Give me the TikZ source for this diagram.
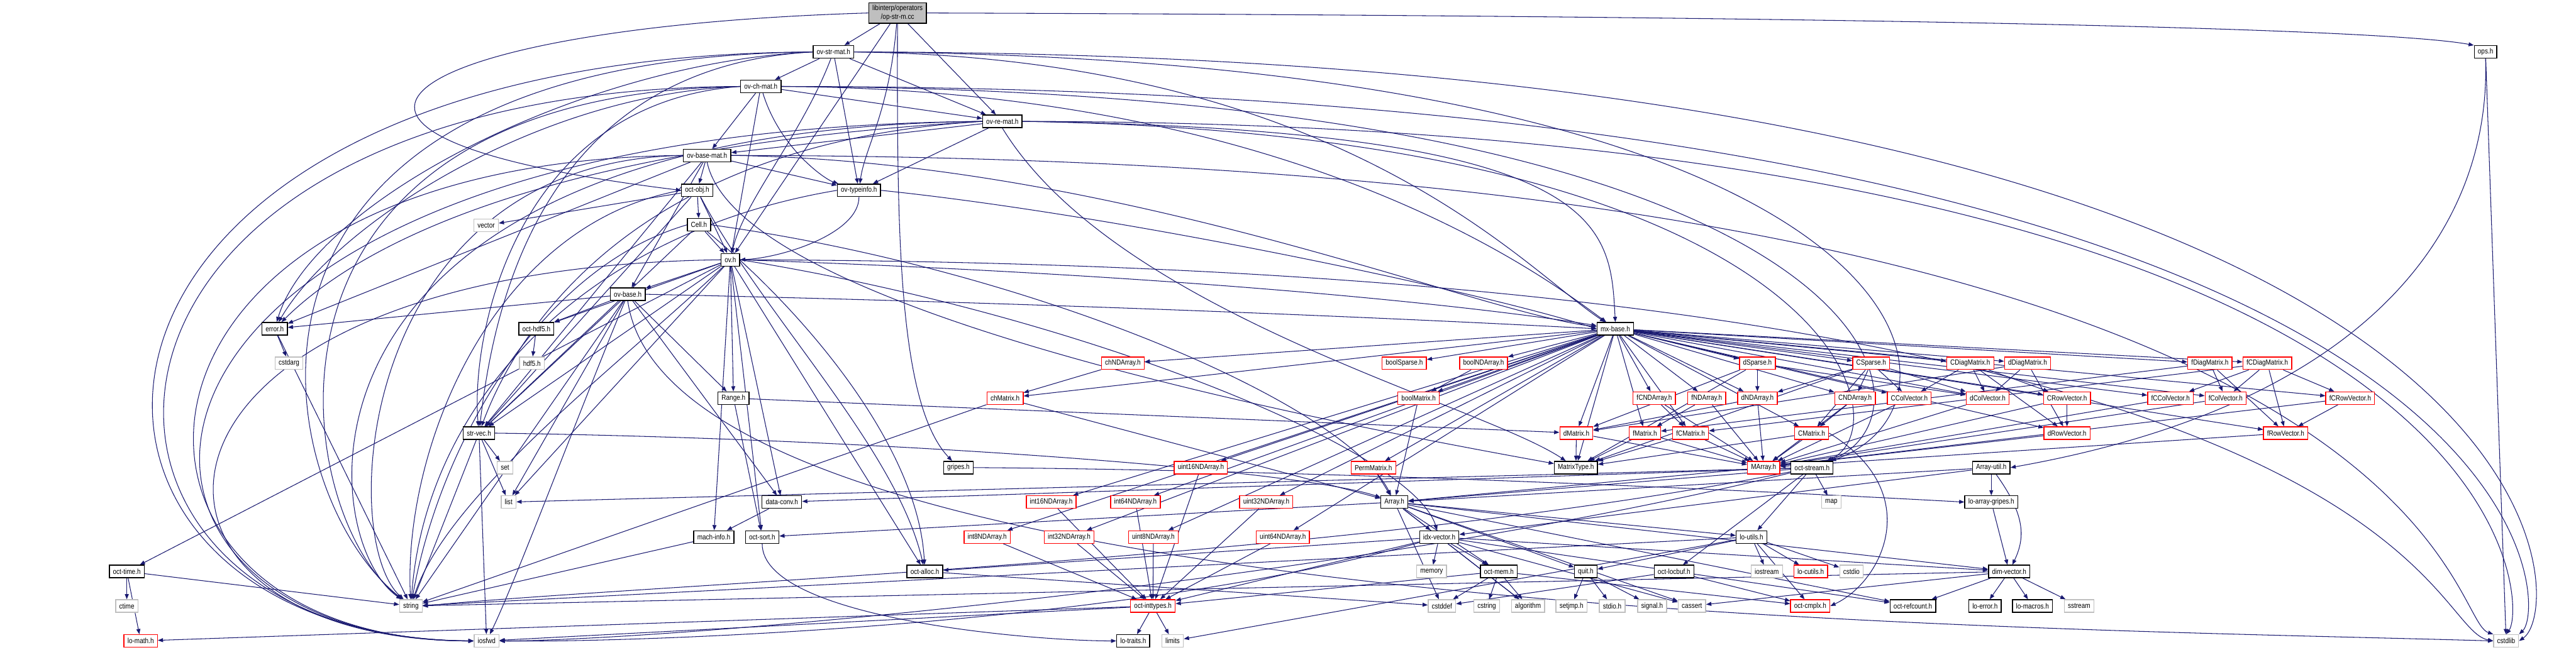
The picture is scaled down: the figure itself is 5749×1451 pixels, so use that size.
\documentclass[tikz,border=0pt]{standalone}
\usepackage{fontspec}
\setmainfont{Liberation Sans}[FakeStretch=0.85]
\usepackage{tikz}
\usetikzlibrary{arrows.meta, backgrounds}
\definecolor{edgeblue}{RGB}{25,25,112}
\definecolor{sysgrey}{RGB}{191,191,191}
\definecolor{rootgrey}{RGB}{191,191,191}

\begin{document}
\begin{tikzpicture}[
  x=0.01cm, y=-0.01cm,
  font=\fontsize{4.7}{5.5}\selectfont,
  hdr/.style={rectangle, draw=black, fill=white, line width=0.55pt,
              minimum height=0.28cm, inner xsep=0.08cm, inner ysep=0pt},
  trunc/.style={hdr, draw=red},
  sys/.style={hdr, draw=sysgrey},
  rootbox/.style={hdr, fill=rootgrey, minimum height=0.46cm, align=center},
  dep/.style={-{Triangle[length=3.3pt,width=2.5pt]}, draw=edgeblue,
              line width=0.42pt}
]
\useasboundingbox (0,0) rectangle (5749,1451);

% ── top of the graph ──
\node[rootbox] (opstrm) at (2003,29) {libinterp/operators\\/op-str-m.cc};
\node[hdr] (ovstrmat)   at (1860,116) {ov-str-mat.h};
\node[hdr] (ops)        at (5547,116) {ops.h};
\node[hdr] (ovchmat)    at (1698,193) {ov-ch-mat.h};
\node[hdr] (ovremat)    at (2237,271) {ov-re-mat.h};
\node[hdr] (ovbasemat)  at (1578,347) {ov-base-mat.h};
\node[hdr] (octobj)     at (1556,425) {oct-obj.h};
\node[hdr] (ovtypeinfo) at (1917,425) {ov-typeinfo.h};
\node[sys] (vector)     at (1085,503) {vector};
\node[hdr] (cell)       at (1560,502) {Cell.h};
\node[hdr] (ovh)        at (1630,580) {ov.h};
\node[hdr] (ovbase)     at (1401,657) {ov-base.h};

% ── row y = 734 / 811 ──
\node[hdr]   (errorh)  at (613,734)  {error.h};
\node[hdr]   (octhdf)  at (1197,734) {oct-hdf5.h};
\node[hdr]   (mxbase)  at (3605,734) {mx-base.h};
\node[sys]   (cstdarg) at (645,811)  {cstdarg};
\node[sys]   (hdf5)    at (1187,811) {hdf5.h};
\node[trunc] (chnda)   at (2506,811) {chNDArray.h};
\node[trunc] (boolsp)  at (3134,811) {boolSparse.h};
\node[trunc] (boolnda) at (3311,811) {boolNDArray.h};
\node[trunc] (dsp)     at (3922,811) {dSparse.h};
\node[trunc] (csp)     at (4176,811) {CSparse.h};
\node[trunc] (cdiag)   at (4397,811) {CDiagMatrix.h};
\node[trunc] (ddiag)   at (4525,811) {dDiagMatrix.h};
\node[trunc] (fdiag)   at (4932,811) {fDiagMatrix.h};
\node[trunc] (fcdiag)  at (5060,811) {fCDiagMatrix.h};

% ── row y = 889 ──
\node[hdr]   (range)   at (1637,889) {Range.h};
\node[trunc] (chmat)   at (2243,889) {chMatrix.h};
\node[trunc] (boolmat) at (3166,889) {boolMatrix.h};
\node[trunc] (fcnda)   at (3692,889) {fCNDArray.h};
\node[trunc] (fnda)    at (3809,889) {fNDArray.h};
\node[trunc] (dnda)    at (3922,889) {dNDArray.h};
\node[trunc] (cnda)    at (4140,889) {CNDArray.h};
\node[trunc] (ccol)    at (4261,889) {CColVector.h};
\node[trunc] (dcol)    at (4436,889) {dColVector.h};
\node[trunc] (crow)    at (4613,889) {CRowVector.h};
\node[trunc] (fccol)   at (4844,889) {fCColVector.h};
\node[trunc] (fcol)    at (4967,889) {fColVector.h};
\node[trunc] (fcrow)   at (5245,889) {fCRowVector.h};

% ── row y = 967 / 1044 ──
\node[hdr]   (strvec)    at (1069,967)  {str-vec.h};
\node[trunc] (dmat)      at (3518,967)  {dMatrix.h};
\node[trunc] (fmat)      at (3671,967)  {fMatrix.h};
\node[trunc] (fcmat)     at (3773,967)  {fCMatrix.h};
\node[trunc] (cmat)      at (4043,967)  {CMatrix.h};
\node[trunc] (drow)      at (4613,967)  {dRowVector.h};
\node[trunc] (frow)      at (5101,967)  {fRowVector.h};
\node[sys]   (set)       at (1127,1044) {set};
\node[hdr]   (gripes)    at (2139,1044) {gripes.h};
\node[trunc] (u16nda)    at (2680,1044) {uint16NDArray.h};
\node[trunc] (permmat)   at (3065,1044) {PermMatrix.h};
\node[hdr]   (mattype)   at (3517,1044) {MatrixType.h};
\node[trunc] (marray)    at (3936,1044) {MArray.h};
\node[hdr]   (octstream) at (4044,1044) {oct-stream.h};
\node[hdr]   (arrayutil) at (4444,1044) {Array-util.h};

% ── row y = 1121 / 1199 ──
\node[sys]   (list)          at (1135,1121) {list};
\node[hdr]   (dataconv)      at (1745,1121) {data-conv.h};
\node[trunc] (i16nda)        at (2346,1121) {int16NDArray.h};
\node[trunc] (i64nda)        at (2534,1121) {int64NDArray.h};
\node[trunc] (u32nda)        at (2826,1121) {uint32NDArray.h};
\node[hdr]   (array)         at (3112,1121) {Array.h};
\node[sys]   (map)           at (4087,1121) {map};
\node[hdr]   (loarraygripes) at (4444,1121) {lo-array-gripes.h};
\node[hdr]   (machinfo)      at (1593,1199) {mach-info.h};
\node[hdr]   (octsort)       at (1701,1199) {oct-sort.h};
\node[trunc] (i8nda)         at (2203,1199) {int8NDArray.h};
\node[trunc] (i32nda)        at (2386,1199) {int32NDArray.h};
\node[trunc] (u8nda)         at (2574,1199) {uint8NDArray.h};
\node[trunc] (u64nda)        at (2863,1199) {uint64NDArray.h};
\node[hdr]   (idxvec)        at (3212,1199) {idx-vector.h};
\node[hdr]   (loutils)       at (3909,1199) {lo-utils.h};

% ── row y = 1276 ──
\node[hdr]   (octtime)   at (283,1276)  {oct-time.h};
\node[hdr]   (octalloc)  at (2064,1276) {oct-alloc.h};
\node[sys]   (memory)    at (3195,1276) {memory};
\node[hdr]   (octmem)    at (3345,1276) {oct-mem.h};
\node[hdr]   (quit)      at (3539,1276) {quit.h};
\node[hdr]   (octlocbuf) at (3736,1276) {oct-locbuf.h};
\node[sys]   (iostream)  at (3943,1276) {iostream};
\node[trunc] (locutils)  at (4041,1276) {lo-cutils.h};
\node[sys]   (cstdio)    at (4132,1276) {cstdio};
\node[hdr]   (dimvec)    at (4484,1276) {dim-vector.h};

% ── row y = 1353 ──
\node[sys]   (ctime)       at (283,1353)  {ctime};
\node[sys]   (string)      at (917,1353)  {string};
\node[trunc] (octinttypes) at (2573,1353) {oct-inttypes.h};
\node[sys]   (cstddef)     at (3218,1353) {cstddef};
\node[sys]   (cstring)     at (3318,1353) {cstring};
\node[sys]   (algorithm)   at (3410,1353) {algorithm};
\node[sys]   (setjmp)      at (3507,1353) {setjmp.h};
\node[sys]   (stdioh)      at (3598,1353) {stdio.h};
\node[sys]   (signalh)     at (3687,1353) {signal.h};
\node[sys]   (cassert)     at (3776,1353) {cassert};
\node[trunc] (octcmplx)    at (4040,1353) {oct-cmplx.h};
\node[hdr]   (octrefcount) at (4269,1353) {oct-refcount.h};
\node[hdr]   (loerror)     at (4430,1353) {lo-error.h};
\node[hdr]   (lomacros)    at (4536,1353) {lo-macros.h};
\node[sys]   (sstream)     at (4640,1353) {sstream};

% ── bottom row ──
\node[trunc] (lomath)   at (314,1431)  {lo-math.h};
\node[sys]   (iosfwd)   at (1086,1431) {iosfwd};
\node[hdr]   (lotraits) at (2529,1431) {lo-traits.h};
\node[sys]   (limits)   at (2617,1431) {limits};
\node[sys]   (cstdlib)  at (5593,1431) {cstdlib};

\begin{scope}[on background layer]
% ── op-str-m.cc ──
\draw[dep] (opstrm) -- (ovstrmat);
\draw[dep] (opstrm) -- (ovremat);
\draw[dep] (opstrm) .. controls (1985,250) and (1930,330) .. (ovtypeinfo);
\draw[dep] (opstrm) .. controls (2002,500) and (2002,900) .. (gripes);
\draw[dep] (opstrm) -- (ovh);
\draw[dep] (opstrm.west) .. controls (900,60) and (500,300) .. (octobj.west);
\draw[dep] (opstrm.east) .. controls (4000,35) and (5300,60) .. (ops.north west);

% ── ov-str-mat.h ──
\draw[dep] (ovstrmat) -- (ovchmat);
\draw[dep] (ovstrmat) -- (ovremat);
\draw[dep] (ovstrmat) -- (ovtypeinfo);
\draw[dep] (ovstrmat) .. controls (1790,300) and (1660,450) .. (ovh);
\draw[dep] (ovstrmat.west) .. controls (1300,140) and (700,450) .. (errorh);
\draw[dep] (ovstrmat.west) .. controls (1200,150) and (1100,700) .. (strvec);
\draw[dep] (ovstrmat.west) .. controls (400,130) and (600,1100) .. (string);
\draw[dep] (ovstrmat.west) .. controls (0,125) and (5,1420) .. (iosfwd.west);
\draw[dep] (ovstrmat.east) .. controls (3000,130) and (3400,600) .. (mxbase);
\draw[dep] (ovstrmat.east) .. controls (4300,130) and (4450,900) .. (octstream);
\draw[dep] (ovstrmat.east) .. controls (5741,120) and (5741,1350) .. (cstdlib.east);

% ── ov-ch-mat.h ──
\draw[dep] (ovchmat) -- (ovbasemat);
\draw[dep] (ovchmat) -- (ovremat);
\draw[dep] (ovchmat) .. controls (1740,330) and (1840,400) .. (ovtypeinfo);
\draw[dep] (ovchmat) -- (ovh);
\draw[dep] (ovchmat.west) .. controls (1200,210) and (750,500) .. (errorh);
\draw[dep] (ovchmat.west) .. controls (1150,230) and (1050,750) .. (strvec);
\draw[dep] (ovchmat.west) .. controls (500,210) and (650,1150) .. (string);
\draw[dep] (ovchmat.west) .. controls (55,200) and (55,1425) .. (iosfwd.west);
\draw[dep] (ovchmat.east) .. controls (2900,200) and (3450,620) .. (mxbase);
\draw[dep] (ovchmat.east) .. controls (4200,200) and (4350,920) .. (octstream);
\draw[dep] (ovchmat.east) .. controls (5692,195) and (5692,1350) .. (cstdlib.north east);

% ── ov-re-mat.h ──
\draw[dep] (ovremat) -- (ovbasemat);
\draw[dep] (ovremat) -- (ovtypeinfo);
\draw[dep] (ovremat.west) .. controls (1200,330) and (800,550) .. (errorh);
\draw[dep] (ovremat.west) .. controls (1400,320) and (1150,750) .. (strvec);
\draw[dep] (ovremat.south) .. controls (2490,700) and (3300,900) .. (mattype);
\draw[dep] (ovremat.east) .. controls (3593,290) and (3593,500) .. (mxbase.north);
\draw[dep] (ovremat.east) .. controls (4100,300) and (4250,950) .. (octstream);
\draw[dep] (ovremat.west) .. controls (600,290) and (700,1200) .. (string);
\draw[dep] (ovremat.west) .. controls (110,290) and (110,1428) .. (iosfwd.west);
\draw[dep] (ovremat.east) .. controls (5642,275) and (5642,1350) .. (cstdlib.north);

% ── ov-base-mat.h ──
\draw[dep] (ovbasemat) -- (octobj);
\draw[dep] (ovbasemat) -- (ovtypeinfo);
\draw[dep] (ovbasemat) -- (ovbase);
\draw[dep] (ovbasemat) -- (errorh);
\draw[dep] (ovbasemat) -- (strvec);
\draw[dep] (ovbasemat.east) .. controls (2500,360) and (3300,700) .. (mxbase);
\draw[dep] (ovbasemat.south) .. controls (1650,700) and (3000,950) .. (mattype);
\draw[dep] (ovbasemat.west) .. controls (800,360) and (750,1200) .. (string);
\draw[dep] (ovbasemat.west) .. controls (160,360) and (160,1430) .. (iosfwd.west);
\draw[dep] (ovbasemat.east) .. controls (5455,350) and (5455,1380) .. (cstdlib.north west);

% ── oct-obj.h, ov-typeinfo.h, Cell.h ──
\draw[dep] (octobj) -- (cell);
\draw[dep] (octobj) -- (ovh);
\draw[dep] (octobj) -- (vector);
\draw[dep] (octobj) -- (strvec);
\draw[dep] (octobj) .. controls (1700,700) and (2000,1000) .. (octalloc);
\draw[dep] (octobj.west) .. controls (1100,500) and (900,1000) .. (string);
\draw[dep] (ovtypeinfo.south) .. controls (1917,520) and (1750,575) .. (ovh.east);
\draw[dep] (ovtypeinfo.west) .. controls (1300,520) and (950,900) .. (string);
\draw[dep] (ovtypeinfo.east) .. controls (2500,480) and (3300,650) .. (mxbase.west);
\draw[dep] (cell) -- (ovh);
\draw[dep] (cell) -- (strvec);
\draw[dep] (cell) .. controls (1800,700) and (2050,1000) .. (octalloc);
\draw[dep] (cell.east) .. controls (2300,600) and (3000,900) .. (array);
\draw[dep] (cell.west) .. controls (1200,600) and (980,1000) .. (string);

% ── ov.h ──
\draw[dep] (ovh) -- (ovbase);
\draw[dep] (ovh) -- (range);
\draw[dep] (ovh) -- (dataconv);
\draw[dep] (ovh) -- (machinfo);
\draw[dep] (ovh) -- (octsort);
\draw[dep] (ovh) -- (octalloc);
\draw[dep] (ovh) -- (octhdf);
\draw[dep] (ovh) -- (strvec);
\draw[dep] (ovh) -- (list);
\draw[dep] (ovh) -- (octtime);
\draw[dep] (ovh.east) .. controls (2800,620) and (3400,700) .. (mxbase);
\draw[dep] (ovh.east) .. controls (2400,700) and (3150,1000) .. (idxvec);
\draw[dep] (ovh) .. controls (1400,800) and (1000,1100) .. (string);
\draw[dep] (ovh.west) .. controls (210,600) and (210,1430) .. (iosfwd.west);
\draw[dep] (ovh.east) .. controls (5405,590) and (5405,1400) .. (cstdlib.west);

% ── ov-base.h ──
\draw[dep] (ovbase) -- (errorh);
\draw[dep] (ovbase) -- (octhdf);
\draw[dep] (ovbase) -- (range);
\draw[dep] (ovbase) -- (dataconv);
\draw[dep] (ovbase) -- (strvec);
\draw[dep] (ovbase) -- (list);
\draw[dep] (ovbase) -- (string);
\draw[dep] (ovbase) .. controls (1300,900) and (1150,1300) .. (iosfwd);
\draw[dep] (ovbase.east) .. controls (2500,680) and (3300,720) .. (mxbase.west);
\draw[dep] (ovbase.south) .. controls (1500,1380) and (4500,1400) .. (cstdlib.west);

% ── left-hand helpers ──
\draw[dep] (errorh) -- (cstdarg);
\draw[dep] (errorh) -- (string);
\draw[dep] (octhdf) -- (hdf5);
\draw[dep] (octtime) -- (ctime);
\draw[dep] (octtime) -- (string);
\draw[dep] (octtime) -- (lomath);
\draw[dep] (strvec) -- (set);
\draw[dep] (strvec) -- (list);
\draw[dep] (strvec) -- (string);
\draw[dep] (strvec) -- (iosfwd);
\draw[dep] (strvec.east) .. controls (2000,980) and (2900,1050) .. (array);
\draw[dep] (range) -- (dmat);
\draw[dep] (range) -- (octsort);
\draw[dep] (dataconv) -- (machinfo);
\draw[dep] (machinfo) -- (string);
\draw[dep] (octsort.south) .. controls (1700,1380) and (2300,1431) .. (lotraits.west);
\draw[dep] (octalloc) -- (cstddef);
\draw[dep] (gripes.east) .. controls (3000,1050) and (4000,1100) .. (loarraygripes.west);

% ── mx-base.h fan ──
\draw[dep] (mxbase) -- (mattype);
\draw[dep] (mxbase) -- (boolmat);
\draw[dep] (mxbase) -- (boolnda);
\draw[dep] (mxbase) -- (boolsp);
\draw[dep] (mxbase) -- (chmat);
\draw[dep] (mxbase) -- (chnda);
\draw[dep] (mxbase) -- (dcol);
\draw[dep] (mxbase) -- (drow);
\draw[dep] (mxbase) -- (dmat);
\draw[dep] (mxbase) -- (dnda);
\draw[dep] (mxbase) -- (ddiag);
\draw[dep] (mxbase) -- (ccol);
\draw[dep] (mxbase) -- (crow);
\draw[dep] (mxbase) -- (cmat);
\draw[dep] (mxbase) -- (cnda);
\draw[dep] (mxbase) -- (cdiag);
\draw[dep] (mxbase) -- (fcol);
\draw[dep] (mxbase) -- (frow);
\draw[dep] (mxbase) -- (fmat);
\draw[dep] (mxbase) -- (fnda);
\draw[dep] (mxbase) -- (fdiag);
\draw[dep] (mxbase) -- (fccol);
\draw[dep] (mxbase) -- (fcrow);
\draw[dep] (mxbase) -- (fcmat);
\draw[dep] (mxbase) -- (fcnda);
\draw[dep] (mxbase) -- (fcdiag);
\draw[dep] (mxbase) -- (i8nda);
\draw[dep] (mxbase) -- (i16nda);
\draw[dep] (mxbase) -- (i32nda);
\draw[dep] (mxbase) -- (i64nda);
\draw[dep] (mxbase) -- (u8nda);
\draw[dep] (mxbase) -- (u16nda);
\draw[dep] (mxbase) -- (u32nda);
\draw[dep] (mxbase) -- (u64nda);
\draw[dep] (mxbase) -- (dsp);
\draw[dep] (mxbase) -- (csp);
\draw[dep] (mxbase) -- (permmat);

% ── matrix classes ──
\draw[dep] (chnda) -- (chmat);
\draw[dep] (chmat) -- (array);
\draw[dep] (chmat) -- (string);
\draw[dep] (boolnda) -- (boolmat);
\draw[dep] (boolmat) -- (array);
\draw[dep] (dsp) -- (dnda);
\draw[dep] (dsp) -- (dmat);
\draw[dep] (dsp) -- (dcol);
\draw[dep] (dsp) -- (mattype);
\draw[dep] (csp) -- (cnda);
\draw[dep] (csp) -- (dnda);
\draw[dep] (csp) -- (cmat);
\draw[dep] (csp) -- (ccol);
\draw[dep] (csp) -- (dcol);
\draw[dep] (csp) -- (mattype);
\draw[dep] (cdiag) -- (ccol);
\draw[dep] (cdiag) -- (dcol);
\draw[dep] (cdiag) -- (crow);
\draw[dep] (cdiag) -- (drow);
\draw[dep] (ddiag) -- (dcol);
\draw[dep] (ddiag) -- (drow);
\draw[dep] (ddiag) -- (dmat);
\draw[dep] (fdiag) -- (fcol);
\draw[dep] (fdiag) -- (frow);
\draw[dep] (fdiag) -- (fmat);
\draw[dep] (fcdiag) -- (fccol);
\draw[dep] (fcdiag) -- (fcol);
\draw[dep] (fcdiag) -- (fcrow);
\draw[dep] (fcdiag) -- (frow);
\draw[dep] (fcdiag) -- (fcmat);
\draw[dep] (fcnda) -- (fcmat);
\draw[dep] (fcnda) -- (marray);
\draw[dep] (fnda) -- (fmat);
\draw[dep] (fnda) -- (marray);
\draw[dep] (dnda) -- (dmat);
\draw[dep] (dnda) -- (marray);
\draw[dep] (cnda) -- (cmat);
\draw[dep] (cnda) -- (marray);
\draw[dep] (crow) -- (drow);
\draw[dep] (fcrow) -- (frow);
\draw[dep] (ccol) -- (marray);
\draw[dep] (dcol) -- (marray);
\draw[dep] (crow) -- (marray);
\draw[dep] (drow) -- (marray);
\draw[dep] (fccol) -- (marray);
\draw[dep] (fcol) -- (marray);
\draw[dep] (fcrow) -- (marray);
\draw[dep] (frow) -- (marray);
\draw[dep] (dmat) -- (mattype);
\draw[dep] (dmat) -- (marray);
\draw[dep] (fmat) -- (mattype);
\draw[dep] (fmat) -- (marray);
\draw[dep] (fcmat) -- (mattype);
\draw[dep] (fcmat) -- (marray);
\draw[dep] (cmat) -- (mattype);
\draw[dep] (cmat) -- (marray);
\draw[dep] (cmat.east) .. controls (4300,1100) and (4200,1300) .. (octcmplx.east);
\draw[dep] (permmat) -- (array);
\draw[dep] (marray) -- (array);

% ── oct-stream.h ──
\draw[dep] (octstream) -- (map);
\draw[dep] (octstream) -- (loutils);
\draw[dep] (octstream) -- (octlocbuf);
\draw[dep] (octstream) -- (array);
\draw[dep] (octstream) -- (dataconv);
\draw[dep] (octstream) -- (list);
\draw[dep] (octstream) .. controls (3000,1250) and (1500,1300) .. (string.east);
\draw[dep] (octstream) .. controls (3000,1300) and (1500,1430) .. (iosfwd.east);

% ── Array.h and friends ──
\draw[dep] (array) -- (idxvec);
\draw[dep] (array) -- (octmem);
\draw[dep] (array) -- (quit);
\draw[dep] (array) -- (cassert);
\draw[dep] (array) -- (algorithm);
\draw[dep] (array) -- (cstddef);
\draw[dep] (array) -- (loutils);
\draw[dep] (array) -- (dimvec);
\draw[dep] (array) -- (octsort);
\draw[dep] (array) -- (octrefcount);
\draw[dep] (idxvec) -- (memory);
\draw[dep] (idxvec) -- (octmem);
\draw[dep] (idxvec) -- (dimvec);
\draw[dep] (idxvec) -- (octinttypes);
\draw[dep] (idxvec) -- (octalloc);
\draw[dep] (idxvec) -- (octrefcount);
\draw[dep] (idxvec) -- (algorithm);
\draw[dep] (idxvec) -- (cassert);
\draw[dep] (idxvec) .. controls (2500,1400) and (1400,1435) .. (iosfwd.east);
\draw[dep] (octmem) -- (cstddef);
\draw[dep] (octmem) -- (cstring);
\draw[dep] (octmem) -- (algorithm);
\draw[dep] (octmem) -- (octcmplx);
\draw[dep] (octmem) -- (octinttypes);
\draw[dep] (quit) -- (setjmp);
\draw[dep] (quit) -- (stdioh);
\draw[dep] (quit) -- (signalh);
\draw[dep] (loutils) -- (iostream);
\draw[dep] (loutils) -- (locutils);
\draw[dep] (loutils) -- (cstdio);
\draw[dep] (loutils) -- (octcmplx);
\draw[dep] (loutils) -- (quit);
\draw[dep] (loutils) -- (string);
\draw[dep] (loutils) -- (limits);
\draw[dep] (octlocbuf) -- (cstddef);
\draw[dep] (octlocbuf) -- (octcmplx);

% ── ops.h, Array-util.h, dim-vector.h ──
\draw[dep] (ops.south) .. controls (5560,500) and (5300,900) .. (arrayutil.east);
\draw[dep] (ops) -- (cstdlib);
\draw[dep] (arrayutil) -- (loarraygripes);
\draw[dep] (arrayutil) .. controls (4520,1150) and (4520,1200) .. (dimvec);
\draw[dep] (arrayutil) -- (array);
\draw[dep] (arrayutil) -- (idxvec);
\draw[dep] (loarraygripes) -- (dimvec);
\draw[dep] (dimvec) -- (octrefcount);
\draw[dep] (dimvec) -- (loerror);
\draw[dep] (dimvec) -- (lomacros);
\draw[dep] (dimvec) -- (sstream);
\draw[dep] (dimvec) -- (cassert);
\draw[dep] (dimvec) -- (string);

% ── integer arrays ──
\draw[dep] (i8nda) -- (octinttypes);
\draw[dep] (i16nda) -- (octinttypes);
\draw[dep] (i32nda) -- (octinttypes);
\draw[dep] (i64nda) -- (octinttypes);
\draw[dep] (u8nda) -- (octinttypes);
\draw[dep] (u16nda) -- (octinttypes);
\draw[dep] (u32nda) -- (octinttypes);
\draw[dep] (u64nda) -- (octinttypes);
\draw[dep] (octinttypes) -- (lotraits);
\draw[dep] (octinttypes) -- (limits);
\draw[dep] (octinttypes) -- (lomath);
\draw[dep] (octinttypes) -- (iosfwd);
\end{scope}

\end{tikzpicture}
\end{document}
